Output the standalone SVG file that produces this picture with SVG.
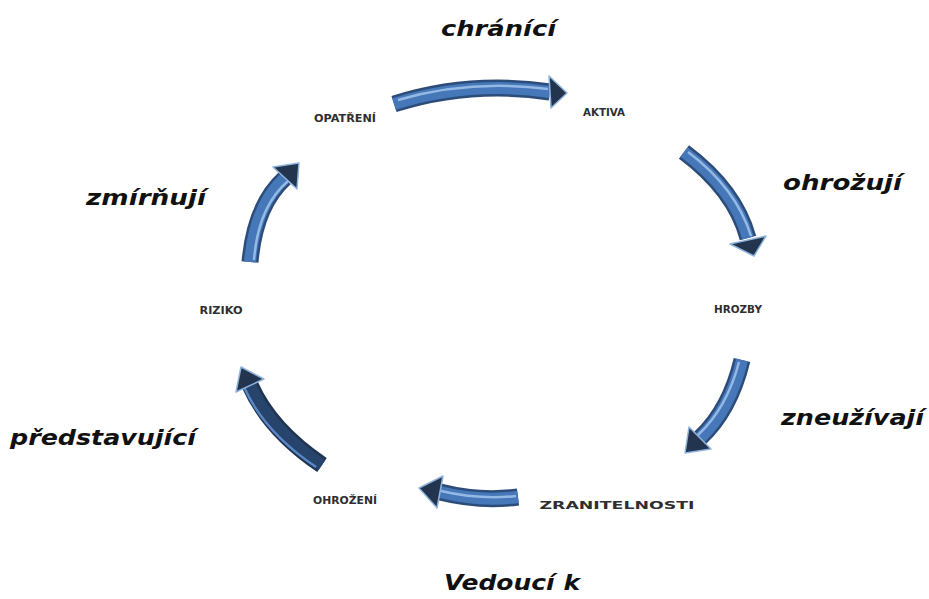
<svg xmlns="http://www.w3.org/2000/svg" width="929" height="599" viewBox="0 0 929 599">
<style>
.node{font-family:"DejaVu Sans",sans-serif;font-size:10.5px;font-weight:bold;fill:#2e2e2e;text-anchor:middle}
.verb{font-family:"DejaVu Sans",sans-serif;font-size:22px;font-weight:bold;font-style:italic;fill:#111}
.edge{fill:none;stroke:#2c4c7a;stroke-width:17;stroke-linecap:butt}
.mid{fill:none;stroke:#4677b8;stroke-width:12}
.hi{fill:none;stroke:#9cc0ea;stroke-width:2.5;opacity:0.9}
.head{fill:#22344e;stroke:#8fb3dd;stroke-width:1.5;stroke-linejoin:round}
</style>
<rect width="929" height="599" fill="#ffffff"/>
<g id="connectors">
  <g id="arrow-chranici">
    <path class="edge" d="M394,104 Q470,80 550,92"/>
    <path class="mid" d="M394,104 Q470,80 550,92"/>
    <path class="hi" d="M398,100 Q470,79 548,89"/>
    <polygon class="head" points="549,76 567,93 551,108"/>
  </g>
  <g id="arrow-ohrozuji">
    <path class="edge" d="M684,152 Q735,190 748,238"/>
    <path class="mid" d="M684,152 Q735,190 748,238"/>
    <path class="hi" d="M688,152 Q736,188 751,236"/>
    <polygon class="head" points="766,236 754,256 730,244"/>
  </g>
  <g id="arrow-zneuzivaji">
    <path class="edge" d="M742,360 Q730,410 700,438"/>
    <path class="mid" d="M742,360 Q730,410 700,438"/>
    <path class="hi" d="M739,362 Q727,408 698,435"/>
    <polygon class="head" points="711,449 685,453 689,427"/>
  </g>
  <g id="arrow-vedouci">
    <path class="edge" d="M518,497 Q480,502 440,492"/>
    <path class="mid" d="M518,497 Q480,502 440,492"/>
    <path class="hi" d="M516,496 Q480,500 441,491"/>
    <polygon class="head" points="437,508 419,488 443,476"/>
  </g>
  <g id="arrow-predstavujici">
    <path class="edge" d="M322,465 Q270,430 250,385" style="stroke:#1f3552"/>
    <path class="mid" d="M322,465 Q270,430 250,385" style="stroke:#27446c"/>
    <path class="hi" d="M316,467 Q264,432 244,387" style="stroke:#5f8fd0"/>
    <polygon class="head" points="264,379 241,367 236,392"/>
  </g>
  <g id="arrow-zmirnuji">
    <path class="edge" d="M250,262 Q255,205 285,178"/>
    <path class="mid" d="M250,262 Q255,205 285,178"/>
    <path class="hi" d="M254,260 Q258,207 288,181"/>
    <polygon class="head" points="297,189 299,163 273,167"/>
  </g>
</g>
<g id="node-opatreni"><text class="node" x="345" y="122" textLength="62" lengthAdjust="spacingAndGlyphs">OPATŘENÍ</text></g>
<g id="node-aktiva"><text class="node" x="604" y="116" textLength="42" lengthAdjust="spacingAndGlyphs">AKTIVA</text></g>
<g id="node-hrozby"><text class="node" x="738" y="313" textLength="48" lengthAdjust="spacingAndGlyphs">HROZBY</text></g>
<g id="node-zranitelnosti"><text class="node" x="617" y="509" textLength="155" lengthAdjust="spacingAndGlyphs">ZRANITELNOSTI</text></g>
<g id="node-ohrozeni"><text class="node" x="345" y="504" textLength="64" lengthAdjust="spacingAndGlyphs">OHROŽENÍ</text></g>
<g id="node-riziko"><text class="node" x="221" y="314" textLength="43" lengthAdjust="spacingAndGlyphs">RIZIKO</text></g>
<g id="labels">
  <text class="verb" x="441" y="36" textLength="115" lengthAdjust="spacingAndGlyphs">chránící</text>
  <text class="verb" x="783" y="190" textLength="119" lengthAdjust="spacingAndGlyphs">ohrožují</text>
  <text class="verb" x="86" y="205" textLength="120" lengthAdjust="spacingAndGlyphs">zmírňují</text>
  <text class="verb" x="781" y="425" textLength="143" lengthAdjust="spacingAndGlyphs">zneužívají</text>
  <text class="verb" x="10" y="445" textLength="186" lengthAdjust="spacingAndGlyphs">představující</text>
  <text class="verb" x="444" y="590" textLength="136" lengthAdjust="spacingAndGlyphs">Vedoucí k</text>
</g>
</svg>
